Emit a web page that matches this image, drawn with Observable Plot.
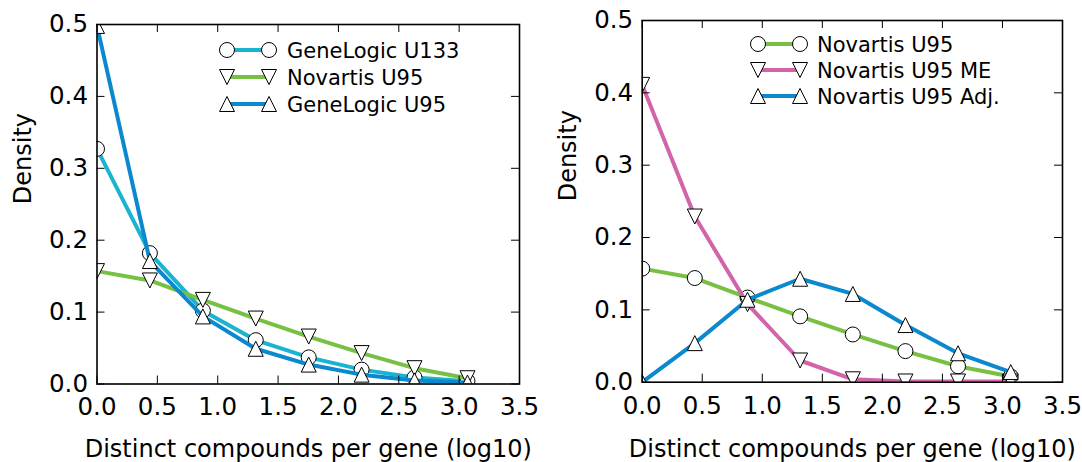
<!DOCTYPE html>
<html><head><meta charset="utf-8">
<script src="https://cdn.jsdelivr.net/npm/d3@7"></script>
<script src="https://cdn.jsdelivr.net/npm/@observablehq/plot@0.6"></script>
<style>
body{margin:0;background:#fff}
#wrap{position:relative;width:1082px;height:462px;overflow:hidden;background:#fff}
.panel{position:absolute;top:0}
</style>
</head><body><div id="wrap"></div>
<script>
// ---- data ----
const xBins = [0, 0.438, 0.877, 1.315, 1.754, 2.192, 2.63, 3.069];
const geneLogicU133 = [0.327, 0.182, 0.102, 0.061, 0.037, 0.020, 0.009, 0.004];
const novartisU95   = [0.157, 0.144, 0.117, 0.091, 0.066, 0.043, 0.022, 0.008];
const geneLogicU95  = [0.498, 0.171, 0.094, 0.049, 0.027, 0.013, 0.005, 0.002];
const novartisU95ME = [0.411, 0.229, 0.108, 0.030, 0.004, 0.001, 0.001, 0.001];
const novartisU95Adj= [0.000, 0.054, 0.114, 0.143, 0.122, 0.079, 0.040, 0.014];
const leftNames  = ["GeneLogic U133", "Novartis U95", "GeneLogic U95"];
const rightNames = ["Novartis U95", "Novartis U95 ME", "Novartis U95 Adj."];
const xTicks = [0, 0.5, 1, 1.5, 2, 2.5, 3, 3.5];
const yTicks = [0, 0.1, 0.2, 0.3, 0.4, 0.5];
const xLabel = "Distinct compounds per gene (log10)";
const yLabel = "Density";

// ---- styles ----
const CYAN = "#1bb4d0", GREEN = "#78c043", BLUE = "#0a89cf", PINK = "#d264a9";
const triUp = {draw(ctx, size){const r=Math.sqrt(size/Math.PI);ctx.moveTo(0,-r);ctx.lineTo(-r,r);ctx.lineTo(r,r);ctx.closePath();}};
const triDown = {draw(ctx, size){const r=Math.sqrt(size/Math.PI);ctx.moveTo(0,r);ctx.lineTo(-r,-r);ctx.lineTo(r,-r);ctx.closePath();}};
const FONT = "DejaVu Sans";
const TICK_FS = 24.5, LABEL_FS = 24, LEGEND_FS = 21;

function rows(values){ return xBins.map((x,i)=>({x, y: values[i]})); }

function panel(opts){
  const {series, left, ml, mr, mt, mb, legend} = opts;
  const W = 541, Ht = 462;
  const fw = W - ml - mr, fh = Ht - mt - mb;
  const marks = [];
  for (const s of series){
    const d = rows(s.values);
    marks.push(Plot.line(d, {x:"x", y:"y", stroke:s.color, strokeWidth:4, clip:true}));
    marks.push(Plot.dot(d, {x:"x", y:"y", symbol:s.symbol, r:7.5, fill:"white", stroke:"black", strokeWidth:1, clip:true}));
  }
  marks.push(
    Plot.tickX(xTicks, {x:d=>d, stroke:"black", strokeWidth:1, insetTop:fh-8}),
    Plot.tickX(xTicks, {x:d=>d, stroke:"black", strokeWidth:1, insetBottom:fh-8}),
    Plot.tickY(yTicks, {y:d=>d, stroke:"black", strokeWidth:1, insetRight:fw-8}),
    Plot.tickY(yTicks, {y:d=>d, stroke:"black", strokeWidth:1, insetLeft:fw-8}),
    Plot.frame({stroke:"black", strokeWidth:1.6}),
    Plot.axisX(xTicks, {tickSize:0, tickPadding:14, tickFormat:d3.format(".1f"), fontSize:TICK_FS, label:null, fill:"black"}),
    Plot.axisY(yTicks, {tickSize:0, tickPadding:9, tickFormat:d3.format(".1f"), fontSize:TICK_FS, label:null, fill:"black"}),
    Plot.text([yLabel], {text:d=>d, frameAnchor:"left", rotate:-90, dx:-74, fontSize:LABEL_FS, fill:"black"}),
    Plot.text([xLabel], {text:d=>d, frameAnchor:"bottom", dy:opts.xlabDy, fontSize:LABEL_FS, fill:"black"})
  );
  const svg = Plot.plot({
    width: W, height: Ht, marginLeft: ml, marginRight: mr, marginTop: mt, marginBottom: mb,
    x: {domain:[0,3.5]}, y: {domain:[0,0.5]},
    style: {fontFamily: FONT, background:"white", color:"black", overflow:"visible"},
    marks
  });
  // legend
  const g = d3.select(svg).append("g").attr("font-family", FONT).attr("font-size", LEGEND_FS).attr("text-anchor","start");
  series.forEach((s, i) => {
    const y = legend.y0 + i * legend.dy;
    g.append("line").attr("x1", legend.x1).attr("x2", legend.x2).attr("y1", y).attr("y2", y)
      .attr("stroke", s.color).attr("stroke-width", 4);
    const sym = s.symbol === "circle" ? d3.symbolCircle : s.symbol;
    for (const x of [legend.x1, legend.x2]){
      g.append("path").attr("d", d3.symbol(sym, 7.5*7.5*Math.PI)())
        .attr("transform", `translate(${x},${y})`).attr("fill","white").attr("stroke","black").attr("stroke-width",1);
    }
    g.append("text").attr("x", legend.tx).attr("y", y).attr("dy","0.36em").attr("text-anchor","start").attr("fill","black").text(s.name);
  });
  const div = document.createElement("div");
  div.className = "panel";
  div.style.left = left + "px";
  div.appendChild(svg);
  document.getElementById("wrap").appendChild(div);
}

panel({
  series: [
    {name:leftNames[0], values:geneLogicU133, color:CYAN, symbol:"circle"},
    {name:leftNames[1], values:novartisU95, color:GREEN, symbol:triDown},
    {name:leftNames[2], values:geneLogicU95, color:BLUE, symbol:triUp}
  ],
  left:0, ml:96.5, mr:22, mt:24, mb:78.5, xlabDy:73,
  legend:{x1:227, x2:269, y0:50, dy:27, tx:287}
});
panel({
  series: [
    {name:rightNames[0], values:novartisU95, color:GREEN, symbol:"circle"},
    {name:rightNames[1], values:novartisU95ME, color:PINK, symbol:triDown},
    {name:rightNames[2], values:novartisU95Adj, color:BLUE, symbol:triUp}
  ],
  left:541, ml:100.7, mr:20, mt:20, mb:80.3, xlabDy:75,
  legend:{x1:217, x2:259, y0:44, dy:26, tx:276}
});
</script>
</body></html>
